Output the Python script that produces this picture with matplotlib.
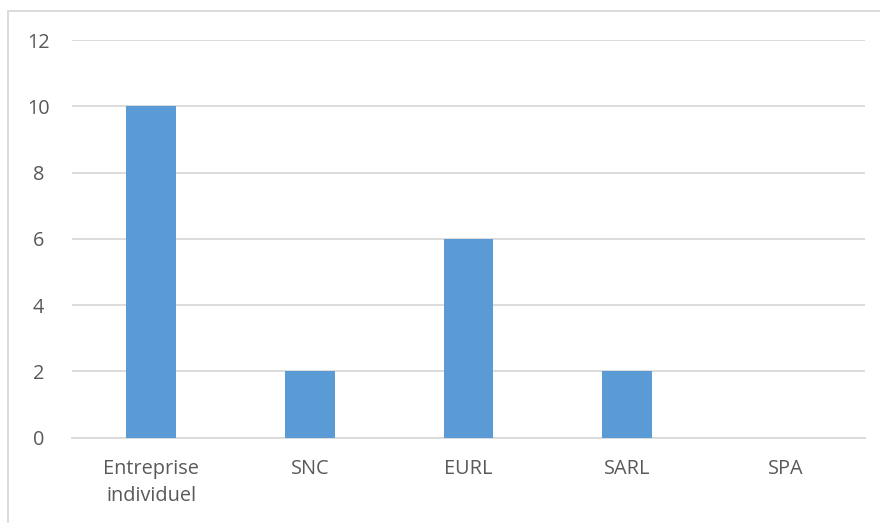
import matplotlib
matplotlib.use("Agg")
import matplotlib.pyplot as plt
from matplotlib.patches import Rectangle

categories = ["Entreprise\nindividuel", "SNC", "EURL", "SARL", "SPA"]
values = [10, 2, 6, 2, 0]
yticks = [0, 2, 4, 6, 8, 10, 12]

W, H = 880, 523
fig = plt.figure(figsize=(W / 100, H / 100), dpi=100)
plt.rcParams["font.family"] = ["Open Sans", "DejaVu Sans"]

# chart-area border (continues past right and bottom edges)
fig.patches.append(Rectangle((8 / W, -0.05), 1.2, 1 - 10.5 / H + 0.05,
                             transform=fig.transFigure, fill=False,
                             edgecolor="#d9d9d9", linewidth=1.3))

left, right = 72, 865
top, bottom = 40, 437.7
ax = fig.add_axes([left / W, 1 - bottom / H, (right - left) / W, (bottom - top) / H])

x = list(range(len(categories)))
ax.bar(x, values, width=0.315, color="#5b9bd5", zorder=3)
ax.set_xlim(-0.5, len(categories) - 0.5)
ax.set_ylim(0, 12)
ax.set_yticks(yticks)
ax.set_xticks(x)
ax.set_xticklabels(categories, linespacing=1.5)
ax.yaxis.grid(True, color="#d9d9d9", linewidth=1.3, zorder=0)
for s in ["top", "right", "left"]:
    ax.spines[s].set_visible(False)
ax.spines["bottom"].set_color("#d9d9d9")
ax.spines["bottom"].set_linewidth(1.3)
ax.tick_params(axis="both", length=0, labelsize=14.3, labelcolor="#595959")
ax.tick_params(axis="y", pad=24)
ax.tick_params(axis="x", pad=15)
for lbl in ax.get_yticklabels():
    lbl.set_horizontalalignment("center")

fig.savefig("out.png", dpi=100)
